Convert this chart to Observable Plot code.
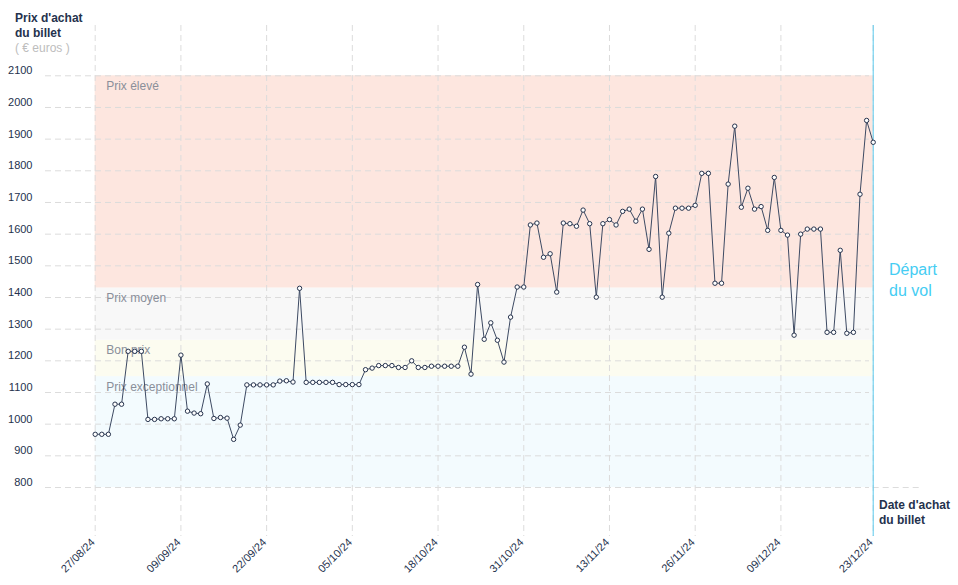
<!DOCTYPE html>
<html>
<head>
<meta charset="utf-8">
<script src="https://cdn.jsdelivr.net/npm/d3@7"></script>
<script src="https://cdn.jsdelivr.net/npm/@observablehq/plot@0.6"></script>
<style>
  body { margin: 0; background: #fff; font-family: "Liberation Sans", Arial, sans-serif; }
  #wrap { position: relative; width: 958px; height: 585px; overflow: hidden; }
  #wrap svg { position: absolute; left: 0; top: 0; }
  .ttl { position: absolute; font-weight: bold; font-size: 12px; line-height: 15px; color: #25324d; white-space: nowrap; }
  .sub { font-weight: normal; color: #bdbdbd; }
  .dep { position: absolute; font-size: 16px; line-height: 21px; color: #45cdf3; white-space: nowrap; }
</style>
</head>
<body>
<div id="wrap">
  <div class="ttl" style="left:15px;top:11px;">Prix d'achat<br>du billet<br><span class="sub">( € euros )</span></div>
  <div class="ttl" style="left:879px;top:498px;">Date d'achat<br>du billet</div>
  <div class="dep" style="left:889px;top:259px;">Départ<br>du vol</div>
</div>
<script>
// ---- data ----
const startDate = "2024-08-27";
const departureDate = "2024-12-23";
// daily purchase price (€), one value per day from startDate
const prices = [
  968, 968, 968, 1063, 1063, 1230, 1230, 1230, 1015, 1015,
  1017, 1017, 1017, 1218, 1041, 1035, 1033, 1127, 1018, 1021,
  1019, 952, 997, 1124, 1124, 1124, 1124, 1124, 1136, 1137,
  1133, 1429, 1132, 1132, 1132, 1132, 1132, 1125, 1125, 1125,
  1125, 1172, 1177, 1185, 1185, 1185, 1179, 1179, 1200, 1179,
  1179, 1183, 1183, 1183, 1183, 1183, 1243, 1158, 1441, 1268,
  1320, 1265, 1196, 1338, 1433, 1433, 1629, 1635, 1527, 1538,
  1417, 1635, 1633, 1625, 1676, 1633, 1401, 1633, 1646, 1629,
  1672, 1679, 1641, 1679, 1552, 1782, 1401, 1603, 1682, 1682,
  1682, 1691, 1792, 1792, 1445, 1445, 1758, 1941, 1685, 1745,
  1679, 1687, 1612, 1779, 1612, 1597, 1281, 1600, 1616, 1616,
  1616, 1290, 1290, 1549, 1287, 1290, 1726, 1959, 1890
];
const tickDates = ["2024-08-27", "2024-09-09", "2024-09-22", "2024-10-05", "2024-10-18",
                   "2024-10-31", "2024-11-13", "2024-11-26", "2024-12-09", "2024-12-23"];
const yTicks = [800, 900, 1000, 1100, 1200, 1300, 1400, 1500, 1600, 1700, 1800, 1900, 2000, 2100];
const bandNames = ["Prix exceptionnel", "Bon prix", "Prix moyen", "Prix élevé"];
const bandLow = [800, 1150, 1265, 1430];
const bandHigh = [1150, 1265, 1430, 2100];
const bandColors = ["#f3fbfe", "#fcfcf0", "#f8f8f8", "#fde6df"];

// ---- build ----
const parse = d3.utcParse("%Y-%m-%d");
const start = parse(startDate);
const dep = parse(departureDate);
const data = prices.map((p, i) => ({date: d3.utcDay.offset(start, i), price: p}));
const bands = bandNames.map((name, i) => ({name, low: bandLow[i], high: bandHigh[i], color: bandColors[i]}));
const ticks = tickDates.map(parse);
const fmt = d3.utcFormat("%d/%m/%y");
const grid = "#dcdcdc";

const chart = Plot.plot({
  width: 958,
  height: 585,
  marginLeft: 45,
  marginRight: 89,
  marginTop: 25,
  marginBottom: 49,
  style: {fontFamily: "'Liberation Sans', Arial, sans-serif", fontSize: "11px", color: "#25324d", background: "transparent"},
  x: {type: "utc", domain: [start, dep], range: [94.7, 872.7]},
  y: {domain: [800, 2100], range: [487, 75.3]},
  color: {type: "identity"},
  marks: [
    Plot.rect(bands, {x1: () => start, x2: () => dep, y1: "low", y2: "high", fill: "color"}),
    Plot.ruleY(yTicks, {stroke: grid, strokeDasharray: "6,4"}),
    Plot.ruleY([800], {x1: () => dep, x2: () => d3.utcDay.offset(dep, 7), stroke: grid, strokeDasharray: "6,4"}),
    Plot.ruleX(ticks, {stroke: grid, strokeDasharray: "6,4"}),
    Plot.text(bands, {x: () => start, y: "high", text: "name", textAnchor: "start", dx: 11, dy: 10,
                      fill: "#8a8f9a", fontSize: 12}),
    Plot.ruleX([dep], {stroke: "#5ccaee", strokeWidth: 1}),
    Plot.line(data, {x: "date", y: "price", stroke: "#3d4a63", strokeWidth: 1}),
    Plot.dot(data, {x: "date", y: "price", r: 2.2, fill: "white", stroke: "#26334d", strokeWidth: 1}),
    Plot.axisY(yTicks, {tickSize: 0, tickPadding: 13, dy: -5, fontSize: 11, fill: "#25324d",
                        tickFormat: d => String(d), label: null}),
    Plot.axisX(ticks, {tickSize: 0, tickPadding: 4, tickRotate: -45, tickFormat: fmt, fontSize: 11,
                       fill: "#25324d", dx: -2, label: null})
  ]
});
document.getElementById("wrap").prepend(chart);
</script>
</body>
</html>
